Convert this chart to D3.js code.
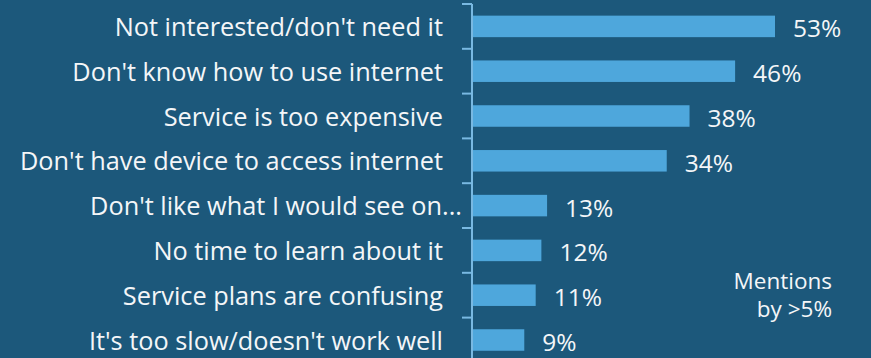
<!DOCTYPE html>
<html>
<head>
<meta charset="utf-8">
<script src="https://cdn.jsdelivr.net/npm/d3@7"></script>
<style>
  html, body { margin: 0; padding: 0; background: #1c587b; overflow: hidden; }
  svg { display: block; }
  text { font-family: "Open Sans", "Segoe UI", sans-serif; fill: #f4f6f8; }
</style>
</head>
<body>
<div id="chart"></div>
<script>
// reasons for not using the internet
const categories = [
    "Not interested/don't need it",
    "Don't know how to use internet",
    "Service is too expensive",
    "Don't have device to access internet",
    "Don't like what I would see on...",
    "No time to learn about it",
    "Service plans are confusing",
    "It's too slow/doesn't work well"
];
const values = [53, 46, 38, 34, 13, 12, 11, 9];
const noteLines = ["Mentions", "by >5%"];

const width = 871;
const height = 358;
const axisX = 472;

const svg = d3.select("#chart")
    .append("svg")
    .attr("width", width)
    .attr("height", height);

const x = d3.scaleLinear()
    .domain([0, 53])
    .range([axisX + 1, 775]);

const y = d3.scaleBand()
    .domain(categories)
    .range([4, 4 + 8 * 44.8])
    .paddingInner(0.52)
    .paddingOuter(0.26);

// axis line with outward ticks at band edges
const edges = categories.map(c => y(c) - y.step() * y.paddingInner() / 2);
edges.push(edges[edges.length - 1] + y.step());

svg.append("line")
    .attr("x1", axisX).attr("x2", axisX)
    .attr("y1", edges[0]).attr("y2", height + 10)
    .attr("stroke", "#79b9e2")
    .attr("stroke-width", 2);

svg.selectAll(".tick")
    .data(edges)
    .enter()
    .append("line")
    .attr("x1", axisX - 10).attr("x2", axisX)
    .attr("y1", d => d).attr("y2", d => d)
    .attr("stroke", "#79b9e2")
    .attr("stroke-width", 2);

svg.selectAll(".bar")
    .data(values)
    .enter()
    .append("rect")
    .attr("x", x(0))
    .attr("y", (d, i) => y(categories[i]))
    .attr("width", d => x(d) - x(0))
    .attr("height", y.bandwidth())
    .attr("fill", "#4ea7dc");

svg.selectAll(".cat")
    .data(categories)
    .enter()
    .append("text")
    .attr("x", d => d.endsWith("...") ? axisX - 10 : 443)
    .attr("y", d => y(d) + y.bandwidth() / 2 + 9.5)
    .attr("text-anchor", "end")
    .style("font-size", "25.3px")
    .text(d => d);

svg.selectAll(".val")
    .data(values)
    .enter()
    .append("text")
    .attr("x", d => x(d) + 18)
    .attr("y", (d, i) => y(categories[i]) + y.bandwidth() / 2 + 11)
    .style("font-size", "24.5px")
    .text(d => d + "%");

svg.append("text")
    .attr("text-anchor", "end")
    .style("font-size", "22.5px")
    .selectAll("tspan")
    .data(noteLines)
    .enter()
    .append("tspan")
    .attr("x", 832)
    .attr("y", (d, i) => 289 + i * 28)
    .text(d => d);
</script>
</body>
</html>
